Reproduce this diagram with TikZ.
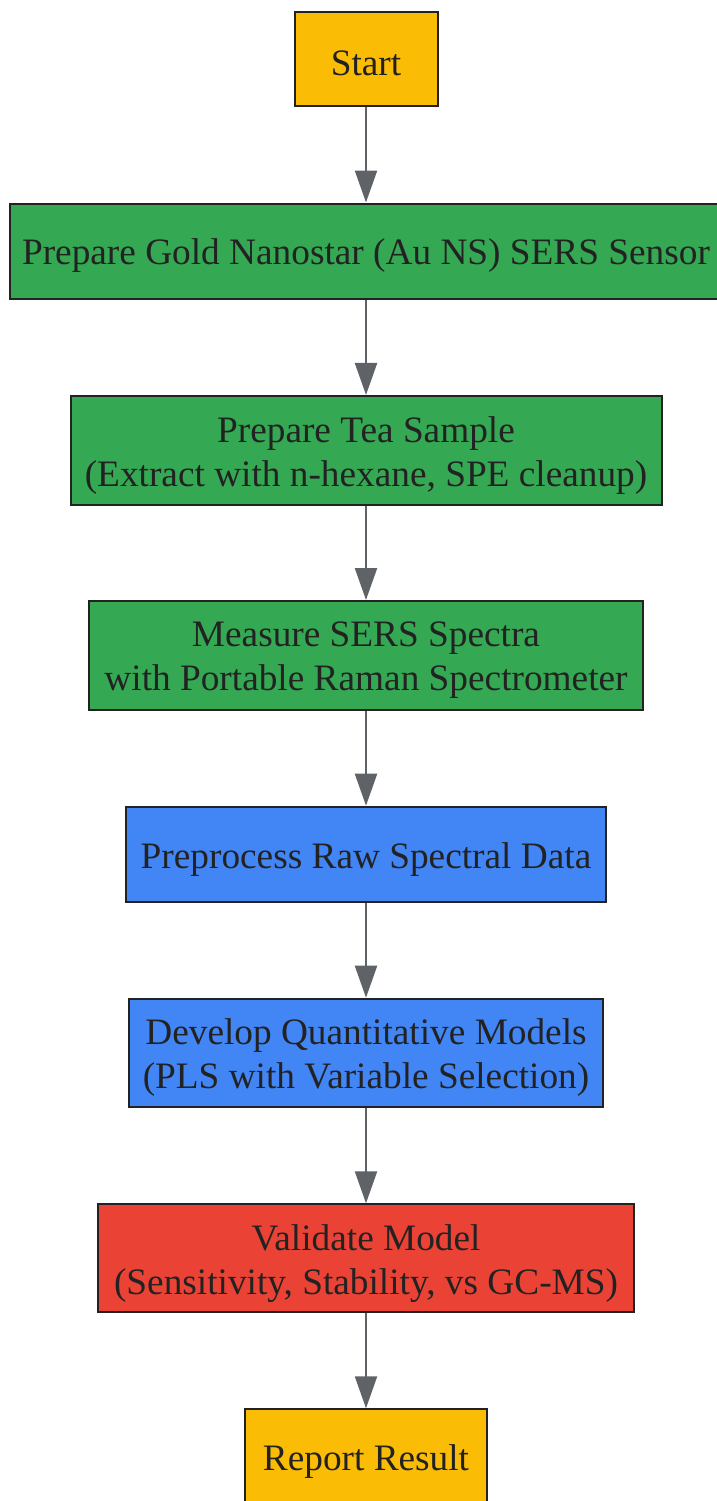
\documentclass[tikz,border=0pt]{standalone}
\usepackage{fontspec}
\setmainfont{Liberation Serif}
\usetikzlibrary{arrows.meta}
\definecolor{cyellow}{HTML}{FBBC05}
\definecolor{cgreen}{HTML}{34A853}
\definecolor{cblue}{HTML}{4285F4}
\definecolor{cred}{HTML}{EA4335}
\definecolor{cborder}{HTML}{222222}
\definecolor{ctext}{HTML}{222222}
\definecolor{carrow}{HTML}{5F6368}
\begin{document}
\begin{tikzpicture}[x=1pt,y=-1pt,
  box/.style={draw=cborder, line width=2pt, rectangle, inner sep=0pt},
  txt/.style={inner sep=0pt, align=center, text=ctext, font=\fontsize{37.3}{44}\selectfont},
  arr/.style={draw=carrow, line width=2.3pt, -{Triangle[length=32pt,width=22pt]}}]
\useasboundingbox (0,0) rectangle (717,1501);
\clip (0,0) rectangle (717,1501);
\node[box, fill=cyellow, minimum width=143pt, minimum height=94pt] (start) at (366,59) {};
\node[box, fill=cgreen, minimum width=712pt, minimum height=95pt] (gold) at (366,251) {};
\node[box, fill=cgreen, minimum width=591pt, minimum height=108.7pt] (tea) at (366,450.3) {};
\node[box, fill=cgreen, minimum width=554.6pt, minimum height=109pt] (meas) at (366,655.5) {};
\node[box, fill=cblue, minimum width=480.6pt, minimum height=95pt] (pre) at (366,854.2) {};
\node[box, fill=cblue, minimum width=474.6pt, minimum height=108.6pt] (dev) at (366,1053) {};
\node[box, fill=cred, minimum width=536.6pt, minimum height=108pt] (val) at (366,1258.3) {};
\node[box, fill=cyellow, minimum width=242pt, minimum height=95pt] (rep) at (366,1456.8) {};
\node[txt] (startt) at ([yshift=-4pt]start.center) {Start};
\node[txt] (goldt) at ([yshift=-5pt]gold.center) {Prepare Gold Nanostar (Au NS) SERS Sensor};
\node[txt] (teat) at ([yshift=-5pt]tea.center) {Prepare Tea Sample\\(Extract with n-hexane, SPE cleanup)};
\node[txt] (meast) at ([yshift=-5pt]meas.center) {Measure SERS Spectra\\with Portable Raman Spectrometer};
\node[txt] (pret) at ([yshift=-5pt]pre.center) {Preprocess Raw Spectral Data};
\node[txt] (devt) at ([yshift=-5pt]dev.center) {Develop Quantitative Models\\(PLS with Variable Selection)};
\node[txt] (valt) at ([yshift=-5pt]val.center) {Validate Model\\(Sensitivity, Stability, vs GC-MS)};
\node[txt] (rept) at ([yshift=-5pt]rep.center) {Report Result};
\draw[arr] (start.south) -- (gold.north);
\draw[arr] (gold.south) -- (tea.north);
\draw[arr] (tea.south) -- (meas.north);
\draw[arr] (meas.south) -- (pre.north);
\draw[arr] (pre.south) -- (dev.north);
\draw[arr] (dev.south) -- (val.north);
\draw[arr] (val.south) -- (rep.north);
\end{tikzpicture}
\end{document}
